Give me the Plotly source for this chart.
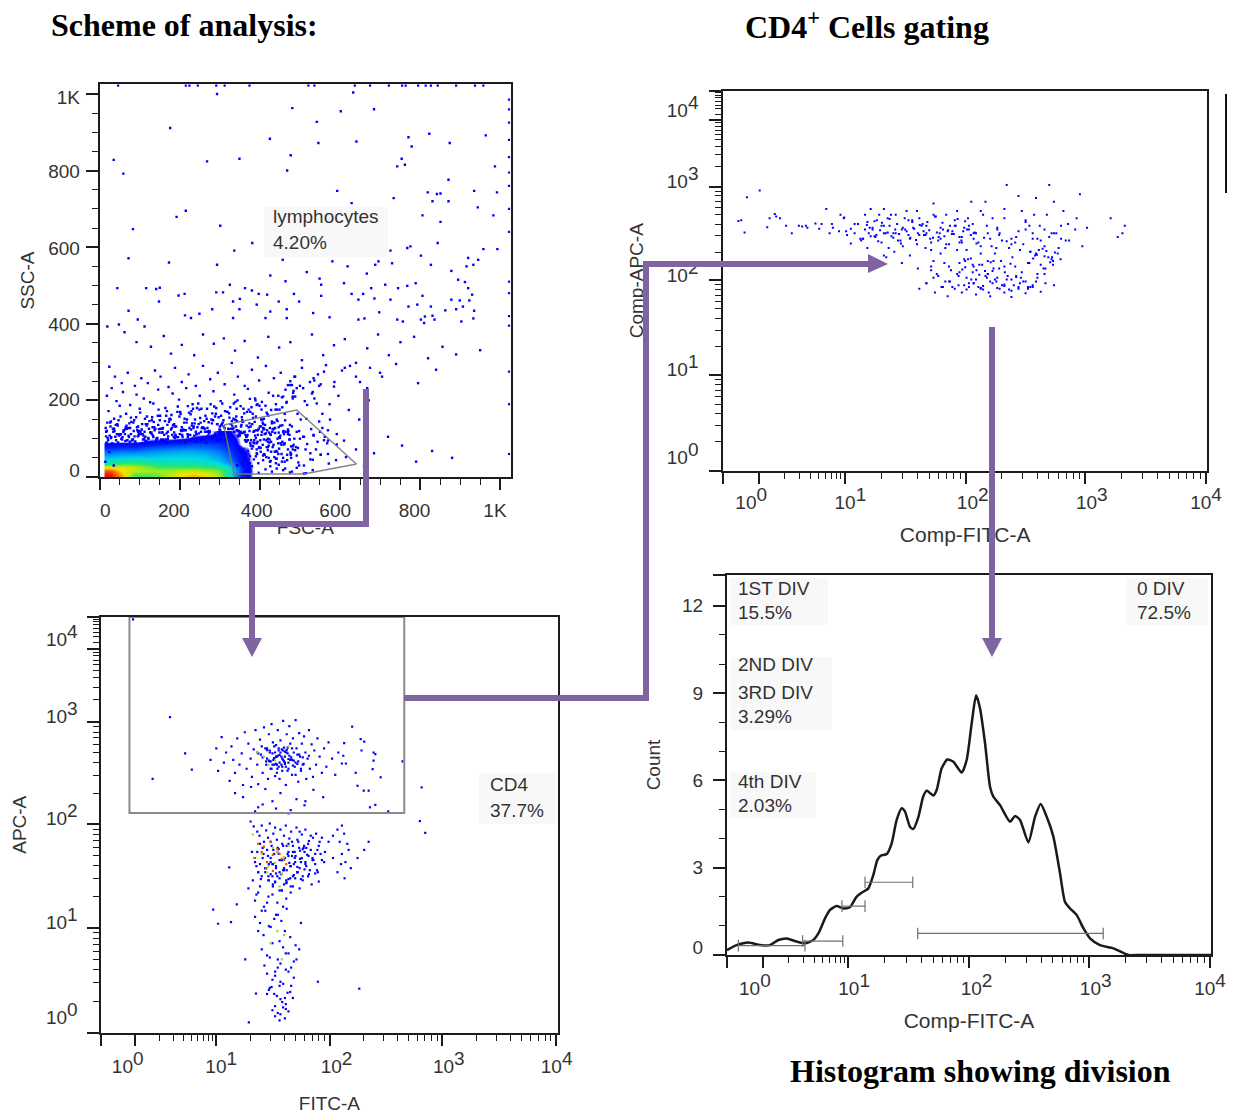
import plotly.graph_objects as go
import math

W, H = 1238, 1115
# ---------- data: A (FSC-A / SSC-A, linear values) ----------
fsc_edge = [46,215,224,245,291,312,374,521,536,637,675,722,755,764,795,814,827,844,890,937,958]
ssc_edge = [1022]*21
fsc_right = [1022]*16
ssc_right = [985,960,925,880,835,795,760,700,640,510,480,420,395,275,190,60]
fsc_a = [293,633,481,602,685,176,542,823,771,964,425,546,641,874,779,35,477,268,349,754,762,743,987,468,59,871,593,819,851,842,935,992,734,629,831,871,944,215,192,806,983,851,301,83,844,381,776,768,336,726,958,993,72,457,581,173,293,696,730,688,802,827,619,920,945,916,933,878,667,426,517,549,895,912,920,464,553,610,789,768,713,745,44,116,141,150,325,380,363,291,308,678,197,212,397,418,485,553,629,658,930,806,148,333,350,447,498,646,686,726,878,899,923,771,793,827,863,890,907,935,281,349,392,426,467,72,698,533,802,812,831,933,95,19,48,112,213,228,249,333,414,467,574,646,661,743,757,810,836,903,
 62,92,128,160,178,205,236,258,285,310,338,362,395,421,448,476,505,530,558,585,612,640,668,695,722,751,785,820,856,890,950,
 24,38,55,70,88,104,120,138,152,172,188,205,222,240,258,276,295,312,330,345,362,380,398,415,435,452,470,488,505,525,545,565,585,605,625,650,675,705,
 18,30,42,58,76,92,110,126,146,164,182,198,216,232,250,268,284,302,318,336,352,370,388,404,422,440,458,476,494,512,532,552,574,596,622,648,672,
 22,36,50,66,84,100,118,134,150,168,186,202,220,238,254,272,290,306,324,342,358,376,392,410,428,446,464,482,500,518,536,556,
 15,28,44,60,78,96,112,130,148,166,184,200,218,234,252,270,288,304,322,340,356,374,390,408,426,444,462,480,498,516,534,
 20,34,48,64,80,98,114,132,154,170,190,208,226,242,260,278,296,314,332,350,366,384,402,420,438,456,474,492,510,528,548,570,592,
 410,432,452,470,490,508,526,544,420,440,460,478,496,514,532,552,572,592,615,640,660,685,720,755,790,830,880,
 430,456,482,508,534,560,586,612,640,668,700,740,795,840,
 16,27,39,47,53,68,74,83,91,102,109,117,124,137,143,151,158,167,175,183,193,201,209,217,226,233,244,251,263,271,281,293,301,309,317,326,334,341,349,357,368,377,386,394,403,411,419,427,436,443,451,459,467,
 19,25,33,41,52,59,67,73,86,94,101,107,115,122,131,139,147,155,163,171,179,187,195,204,212,221,229,237,246,255,264,273,283,291,299,307,316,323,331,339,347,355,364,372,381,389,397,406,414,423,
 17,29,37,45,56,63,71,79,89,97,105,113,121,129,136,145,153,161,169,177,185,194,203,211,219,227,235,243,253,261,269,277,287,297,305,313,321,329,337,344,353,361,369,379,387,395,405,413,421,431,439,447,455,463,471,
 21,31,43,54,65,75,85,95,106,116,126,135,144,156,165,174,181,191,199,207,215,223,231,241,249,257,267,275,286,294,303,311,319,328,335,343,351,359,367,375,383,391,399,407,417,425,433,442,449,458,466,475,483,
 340,352,366,378,392,404,418,430,444,456,470,484,346,360,372,386,398,412,424,438,450,464,478,
 350,364,376,390,402,416,428,442,454,468,482,500,358,370,384,396,410,422,436,448,462,476,492,510,526,
 345,356,368,382,394,408,420,434,446,460,474,488,502,518,534,552,570,590,610,
 470,474,478,482,486,476,480,484,488,492,530,536,542,548,556,562,568,575,540,550,560,570,
 14,24,35,46,57,69,78,88,99,111,120,133,141,149,159,168,178,188,197,206,214,224,232,239,248,259,266,274,282,292,300,308,318,327,336,
 16,26,36,49,61,72,82,93,103,114,123,134,146,157,170,180,189,198,210,220,230,240,252,262,270,280,289,298,310,320,330,
 18,28,40,51,64,76,87,96,108,119,130,142,152,162,173,186,196,205,216,228,236,247,256,268,279,288,302,312,322,334,
 342,348,354,362,370,374,380,388,393,400,407,415,422,428,435,441,448,455,462,470,477,486,495,
 343,350,358,365,372,379,386,395,402,409,416,424,432,440,447,454,461,468,
 345,353,360,367,375,383,390,398,405,412,420,427,434,443,451,458,
 347,355,363,371,377,385,392,401,408,417,426,437,446,
 360,375,392,408,425,442,458,475,492,510,
 365,380,397,414,430,447,463,480,498,515,532]
ssc_a = [1000,1004,963,955,960,911,927,896,887,892,883,872,876,872,863,828,840,824,831,831,815,811,811,800,792,776,747,743,740,739,747,743,728,715,720,720,704,695,679,683,683,666,656,647,611,611,602,598,591,591,595,595,571,567,563,560,554,563,558,554,578,554,550,572,567,550,554,538,531,526,535,518,515,509,493,511,502,506,506,499,502,493,493,493,491,494,502,487,493,482,482,493,474,478,478,476,478,473,478,478,476,473,458,458,465,458,458,463,466,463,463,461,461,445,450,445,435,438,445,434,438,438,450,432,438,434,430,428,411,419,421,414,411,393,398,393,422,415,426,415,415,415,417,411,414,411,406,402,411,406,
 378,352,340,368,322,345,318,372,348,362,330,355,312,366,338,352,305,372,318,344,360,298,336,372,318,352,366,310,340,320,331,
 288,262,245,272,238,258,245,278,262,235,285,248,268,238,290,255,272,242,298,262,238,280,252,290,258,272,240,262,285,248,268,292,236,278,290,248,285,262,
 212,232,198,222,188,215,205,195,228,180,218,202,232,190,212,178,224,198,170,215,185,230,205,176,220,190,210,240,165,198,222,242,190,212,175,150,200,
 172,152,186,165,142,178,158,192,148,172,138,165,185,150,178,143,165,192,155,178,145,170,188,152,175,212,228,205,238,188,252,165,
 128,145,138,122,155,132,118,148,125,160,135,112,150,128,142,118,158,135,125,148,115,140,158,128,112,146,165,132,120,152,110,
 102,118,108,125,95,112,105,130,98,118,108,122,96,112,128,102,116,98,125,108,92,118,132,100,115,135,98,118,105,125,145,95,112,
 98,125,88,112,78,105,62,92,70,48,85,60,38,72,45,58,35,85,52,72,28,62,105,82,40,68,50,
 145,182,210,232,258,275,248,285,262,232,272,295,245,280,
 118,132,105,148,112,126,140,98,156,118,108,134,146,122,100,160,128,114,152,136,104,170,124,142,110,178,130,154,118,106,166,138,122,148,112,182,128,158,116,144,170,132,120,190,150,126,164,110,142,176,134,120,196,
 142,108,126,96,158,118,134,104,148,122,168,112,138,100,156,126,176,116,146,106,162,132,184,120,152,110,172,140,192,128,160,114,148,180,124,142,106,166,134,196,120,156,110,176,138,200,126,150,186,116,
 90,104,120,134,98,112,128,144,92,108,124,152,102,116,130,160,96,110,136,150,104,170,122,142,112,164,132,180,118,146,128,190,108,156,138,172,126,114,150,200,132,166,110,182,144,122,196,136,160,118,176,130,208,148,120,
 96,88,112,100,130,92,120,106,138,94,116,144,102,126,98,150,110,132,158,104,122,168,140,112,176,130,152,118,184,138,160,110,170,126,192,146,116,178,134,204,154,122,186,142,168,128,212,150,176,118,194,136,220,
 132,118,104,96,88,110,122,140,100,92,124,84,106,116,130,96,78,112,90,128,102,118,80,
 70,62,88,54,76,96,66,48,84,58,72,100,44,68,90,36,60,82,52,74,40,64,56,30,46,
 120,148,106,165,92,138,78,125,60,112,98,70,150,86,108,58,122,44,95,72,110,50,80,
 262,250,240,225,210,232,218,205,192,238,128,105,88,150,72,118,96,60,40,65,30,90,
 104,96,112,92,120,100,90,108,95,116,98,88,124,102,94,110,90,128,100,92,114,98,88,120,104,96,132,110,100,138,118,106,142,126,112,
 122,108,98,130,112,94,126,104,136,116,100,128,110,92,122,104,134,118,96,126,108,140,114,98,132,106,146,120,102,136,110,
 94,128,106,118,98,138,112,100,126,92,144,116,104,130,96,124,108,138,100,118,150,112,98,128,106,152,122,110,136,118,
 96,120,74,108,60,132,84,114,50,92,126,68,104,40,88,118,58,100,76,30,112,64,94,46,82,
 88,110,66,124,52,98,78,36,116,60,86,44,108,70,28,94,54,80,
 102,76,118,58,92,42,84,66,108,50,72,34,96,60,82,46,
 62,96,44,78,28,66,88,50,36,72,56,40,22,
 18,12,24,9,16,28,11,20,14,32,
 22,14,30,10,18,34,12,26,16,38,8]
fsc_gate_x = [310,492,641,510,335,310]
ssc_gate_y = [136,175,34,8,8,136]
# density grid for the dense cell cloud of panel A
grid_fsc = [27,57,87,117,147,177,207,237,267,297,327,357,387]
grid_ssc = [5,15,25,35,45,55,65,75,85,95,105,115]
grid_density = [
 [1.0,.86,.62,.62,.66,.74,.82,.86,.82,.72,.5,.2,0],
 [.95,.82,.74,.72,.72,.72,.76,.76,.72,.68,.52,.24,0],
 [.8,.78,.74,.68,.62,.62,.62,.62,.6,.58,.46,.22,0],
 [.6,.64,.64,.6,.56,.56,.55,.55,.54,.5,.4,.18,0],
 [.5,.52,.52,.52,.5,.5,.5,.5,.48,.44,.34,.14,0],
 [.42,.44,.45,.44,.45,.46,.46,.46,.44,.4,.3,.12,0],
 [.34,.36,.36,.38,.4,.41,.42,.42,.4,.36,.27,.1,0],
 [.24,.26,.26,.3,.32,.33,.35,.35,.34,.3,.24,.08,0],
 [.12,.14,.15,.18,.22,.24,.26,.28,.28,.26,.2,0,0],
 [0,0,0,.07,.1,.1,.16,.18,.2,.2,.16,0,0],
 [0,0,0,0,0,0,0,.08,.12,.14,.12,0,0],
 [0,0,0,0,0,0,0,0,0,.08,.08,0,0]]

# ---------- data: C (FITC-A / APC-A, display channels) ----------
fitc_c = [154,115,188,203,71,719,715,727,644,615,603,676,579,486,262,251,291,304,331,323,347,287,
 582,590,611,615,611,609,584,563,545,543,540,549,571,575,589,600,627,
 245,258,262,270,275,280,288,292,296,300,305,310,315,318,322,326,330,335,338,342,346,350,352,356,358,362,365,368,370,374,376,378,380,382,385,388,390,392,394,396,398,400,402,404,406,408,410,412,414,416,418,420,422,424,426,428,430,432,434,436,438,440,442,444,446,448,450,452,455,458,460,463,466,468,472,475,478,482,485,490,495,500,505,510,518,525,532,
 350,372,388,405,392,378,415,428,398,440,420,360,452,384,408,432,466,395,372,412,
 300,318,336,352,368,384,402,420,438,456,476,498,345,362,392,425,458,
 335,342,350,355,360,365,370,374,378,382,386,390,394,398,402,406,410,414,418,422,426,430,434,438,442,446,450,454,458,462,466,470,476,482,488,495,502,510,520,
 338,348,356,362,368,372,376,380,384,388,392,396,400,404,408,412,416,420,424,428,432,436,440,444,448,452,456,460,464,468,474,480,486,492,
 345,352,358,364,370,375,380,385,390,395,400,405,410,415,420,425,430,435,440,445,452,458,466,474,484,
 520,530,535,540,545,552,540,548,555,530,538,546,560,575,590,600,
 330,340,348,356,345,352,365,375,385,395,405,415,425,360,372,384,396,408,
 345,356,368,380,392,404,416,352,364,376,388,400,412,424,436,448,
 360,372,384,396,408,420,432,444,366,378,390,402,414,426,438,
 372,384,396,408,420,432,378,390,402,414,426,
 376,388,400,412,424,382,394,406,418,430,390,402,414,
 384,396,408,420,390,402,414,372,400,412,
 352,362,372,380,388,396,404,412,420,428,436,444,378,386,394,402,410,418,426,384,392,400,408,416,
 370,376,382,388,394,400,406,412,418,424,430,436,442,448,454,390,398,406,414,422,
 344,350,356,362,368,374,380,386,392,398,404,410,416,422,428,434,440,446,452,458,
 352,360,368,376,384,392,400,408,416,424,432,440,448,456,464,472,480,488,
 375,385,395,405,415,425,435,445,380,390,400,410,420,430,
 420,430,440,450,460,470,480,490,500,445,455,465,475,485,495]
apc_c = [777,625,688,648,1018,604,521,492,545,561,555,668,108,125,268,303,272,316,25,180,96,407,
 723,717,690,686,670,649,695,754,713,682,663,663,640,608,596,596,629,
 672,700,645,728,665,690,620,705,672,640,725,660,688,610,740,650,712,675,630,698,745,660,612,722,685,640,752,700,668,625,735,690,650,760,715,676,632,708,660,745,695,625,720,680,645,768,702,665,610,735,688,650,755,712,672,635,725,690,655,770,700,662,618,738,680,645,712,660,730,690,625,675,745,650,710,630,695,660,725,680,640,700,655,715,675,635,690,
 690,675,660,698,680,668,690,672,655,685,665,705,678,660,695,670,682,650,700,662,
 590,580,605,555,600,570,590,540,575,560,598,580,545,562,552,548,570,
 520,508,495,485,510,470,498,480,515,460,490,505,475,452,500,465,485,510,440,478,495,460,430,505,470,448,488,455,500,438,472,450,425,490,460,480,445,470,430,
 445,410,465,430,395,450,415,470,385,440,405,455,425,390,460,430,400,445,380,470,415,435,395,455,420,385,445,410,465,400,430,415,395,440,
 420,395,378,440,405,385,430,415,370,445,395,425,405,375,435,410,385,420,395,405,375,415,390,425,400,
 485,500,470,510,490,465,440,420,450,395,415,380,405,430,450,470,
 355,375,340,360,325,345,310,335,365,320,350,330,360,300,320,340,290,310,
 285,270,300,260,290,275,305,250,240,262,280,225,250,235,215,270,
 205,190,220,180,210,195,175,205,165,185,150,170,195,160,180,
 145,130,160,120,150,135,110,140,125,155,115,
 105,95,115,85,100,112,90,75,98,85,65,82,70,
 55,48,62,52,40,45,58,95,30,35,
 688,678,696,668,705,682,660,692,674,700,665,685,695,672,680,690,668,702,678,688,662,684,672,696,
 660,670,650,676,640,665,655,680,645,672,658,635,668,650,662,690,700,675,655,682,
 430,445,415,455,405,435,420,450,410,440,425,400,460,418,435,445,408,428,452,420,
 395,385,405,375,415,392,380,400,370,410,388,395,378,402,385,365,392,372,
 375,360,385,350,368,345,380,355,390,372,350,365,378,360,
 465,445,475,430,455,485,440,470,420,495,460,435,480,450,425]
fitc_c_hot = [345,360,372,385,395,405,415,370,385,400,410,352,365,380,395,410,375,390,405,420,340,360,385,400,
 372,395,380,405,410,365,350,390,420,375]
apc_c_hot = [430,445,420,438,452,428,415,405,398,440,425,465,458,470,445,432,410,418,392,460,
 488,440,455,360,395,250,220,180,240,680,690,670,705,660]

# ---------- data: D (Comp-FITC-A / Comp-APC-A, display channels) ----------
fitc_d = [77,50,32,109,112,120,133,145,175,167,38,45,98,93,160,178,195,232,256,208,225,203,218,230,245,255,270,248,262,285,300,278,292,305,316,330,312,322,335,348,360,340,352,365,378,392,375,388,402,415,430,410,422,438,450,465,445,458,472,490,478,495,510,525,505,518,530,545,558,540,555,570,585,600,580,595,610,625,640,618,632,648,662,680,658,672,690,705,720,700,715,732,748,770,760,755,820,835,850,845,
 260,278,295,310,325,340,355,370,385,400,415,430,445,460,475,490,505,520,535,550,565,580,595,610,625,640,655,670,685,700,715,730,745,
 270,290,305,320,335,350,365,380,395,410,425,440,455,470,485,500,515,530,545,560,575,590,605,620,635,650,665,680,695,710,725,
 345,362,378,395,412,428,445,460,478,495,510,528,545,560,578,595,612,628,645,662,678,695,
 440,452,468,482,498,512,528,542,558,572,588,602,618,632,648,665,682,698,
 430,445,462,478,495,510,525,540,555,570,585,600,615,630,645,662,680,700,
 415,430,448,465,480,498,515,530,545,562,578,595,610,628,645,
 440,455,470,485,500,515,530,545,560,575,590,605,620,635,650,665,682,
 475,490,505,520,535,550,565,580,595,610,625,640,655,672,
 520,535,550,565,580,595,610,625,640,655,
 275,570,340,310,640,655,690,
 300,308,316,324,332,340,348,356,364,372,380,388,396,404,412,420,428,436,444,452,460,468,476,484,492,500,508,516,524,532,
 296,312,328,344,360,376,392,408,424,440,456,472,488,504,520,536,552,568,584,600,
 304,320,336,352,368,384,400,416,432,448,464,480,496,512,528,
 650,664,676,688,698,708,656,668,680,692,702,714,660,672,684,696,
 500,512,524,536,548,560,572,584,596,608,620,506,518,530,542,554,566]
apc_d = [755,737,673,692,685,680,660,640,660,658,675,642,680,656,660,655,666,655,682,665,640,652,705,665,645,680,652,690,635,665,690,640,620,670,650,690,705,630,660,680,640,705,660,690,650,675,620,700,655,680,640,700,665,625,685,650,720,640,690,660,610,700,655,725,630,680,640,700,660,615,725,680,640,770,650,705,625,740,670,615,700,660,735,650,690,620,770,640,700,725,660,620,680,655,605,745,680,630,660,640,
 645,665,625,655,675,640,690,620,650,670,635,660,690,625,645,675,615,660,640,690,625,655,680,610,645,675,625,660,690,640,625,665,650,
 612,625,600,632,615,600,640,605,625,610,635,595,620,600,645,615,595,625,605,640,585,620,600,630,610,590,625,605,640,600,620,
 575,590,560,580,545,600,565,585,550,595,570,555,585,565,600,550,575,595,560,585,545,570,
 550,530,560,540,525,565,535,555,520,545,565,525,550,535,560,530,545,555,
 505,520,495,510,530,500,515,495,525,505,490,515,500,520,495,510,530,500,
 490,505,480,495,510,500,488,505,492,480,510,498,485,505,490,
 540,525,510,495,535,520,505,490,530,515,500,488,525,510,495,520,505,
 470,490,480,495,475,488,470,492,480,468,490,478,495,482,
 505,515,498,510,520,502,515,495,510,500,
 560,538,580,575,650,640,630,
 650,640,655,635,648,660,642,632,650,638,655,645,628,652,640,660,635,648,628,642,655,632,648,638,660,630,645,650,635,642,
 625,632,618,640,628,612,635,622,645,615,630,610,638,620,650,612,628,605,635,618,
 662,672,668,678,665,680,675,662,670,685,668,660,678,672,665,
 590,582,598,575,565,585,572,595,578,562,588,570,580,555,592,575,
 560,548,572,540,555,530,565,545,535,558,522,542,570,550,528,538,562]

# ---------- data: E (histogram) ----------
hist_channel = [0,20.5,45.2,69.8,91,108.6,126.3,147.4,165,182.7,193.3,207.4,218,232,246,260,274,285,299,309.6,318,325,338,348.4,359,369.6,376.6,387,394,405,415,422.5,436.6,443.6,454,466,479,496.5,507,517.7,527,535.3,546,556.5,563.5,577.7,598.8,609.4,620,637.6,651.7,663.7,676.4,690.5,704.6,715,725.8,740,754,768,789,817.5,849,874,950,1024]
hist_count = [.17,.34,.43,.34,.34,.515,.57,.46,.4,.515,.74,1.26,1.55,1.68,1.6,1.64,2.0,2.14,2.29,2.75,3.26,3.41,3.47,3.84,4.64,5.04,4.93,4.41,4.33,4.75,5.44,5.65,5.48,5.67,6.41,6.72,6.64,6.27,6.7,7.96,8.93,8.48,7.27,5.78,5.44,5.15,4.58,4.78,4.64,3.87,4.75,5.19,4.75,4.07,2.81,1.83,1.6,1.37,.92,.57,.34,.23,0,0,0,0]
hist_gate_lo = [24,160,243,292,403.5]
hist_gate_hi = [165,245,292,393,796]
hist_gate_level = [.32,.48,1.68,2.5,.74]

# ---------- axis labels ----------
linear_ticks = [0,200,400,600,800,1000]
linear_labels = ["0","200","400","600","800","1K"]
x_decades = [76,257,513,765,1021]
y_decades = [0,257,513,765,946]
decade_labels = ["10<sup>%d</sup>" % k for k in range(5)]
hist_ticks = [0,3,6,9,12]

FONT = "Liberation Sans"
DARK = "#1c1c1c"
PURPLE = "#8064A2"

def fx(p): return p / W
def fy(p): return 1 - p / H
def sup(lbl):
    return lbl.replace("<sup>", '<sup><span style="font-size:19px">').replace("</sup>", "</span></sup>")

def log_minor(decs):
    out = []
    for a, b in zip(decs[:-1], decs[1:]):
        out += [a + (b - a) * math.log10(k) for k in range(2, 10)]
    return out

fig = go.Figure()
panels = {
 "A": dict(x=(99.7, 511), y=(84, 477), xr=(0, 1027), yr=(0, 1026)),
 "C": dict(x=(101.4, 557.5), y=(617, 1032.5), xr=(0, 1024), yr=(0, 1024)),
 "D": dict(x=(723.3, 1207), y=(90.7, 470.7), xr=(0, 1024), yr=(0, 1024)),
 "E": dict(x=(727, 1211), y=(575, 955), xr=(0, 1024), yr=(0, 13.06)),
}
spec = {
 "A": dict(xt=linear_ticks, xm=list(range(0, 1001, 50)), yt=linear_ticks, ym=list(range(0, 1001, 50)),
           xlv=[14, 185, 392, 588, 786, 987], xl=linear_labels, ylv=[18, 202, 398, 598, 797, 992], yl=linear_labels,
           xtitle="FSC-A", ytitle="SSC-A", xs=32, ys=46, xpad=16, ypad=15),
 "C": dict(xt=[0]+x_decades, xm=log_minor(x_decades), yt=y_decades+[1024], ym=log_minor(y_decades)+[960,975,985,995,1005,1012,1018],
           xlv=[59,269,528,780,1022], xl=decade_labels, ylv=[37,272,527,780,970], yl=decade_labels,
           xtitle="FITC-A", ytitle="APC-A", xs=52, ys=56, xpad=17, ypad=19),
 "D": dict(xt=[0]+x_decades, xm=log_minor(x_decades), yt=y_decades+[1024], ym=log_minor(y_decades)+[960,975,985,995,1005,1012,1018],
           xlv=[59,269,528,780,1022], xl=decade_labels, ylv=[37,272,527,780,970], yl=decade_labels,
           xtitle="Comp-FITC-A", ytitle="Comp-APC-A", xs=45, ys=61, xpad=14, ypad=20),
 "E": dict(xt=[0]+x_decades, xm=log_minor(x_decades), yt=hist_ticks+[13.06], ym=[1,2,4,5,7,8,10,11],
           xlv=[59,269,528,780,1022], xl=decade_labels, ylv=[.25,3,6,9,12], yl=["0","3","6","9","12"],
           xtitle="Comp-FITC-A", ytitle="Count", xs=46, ys=47, xpad=16, ypad=19),
}
layout = {}
pairs = {}
for i, name in enumerate("ACDE"):
    p, s = panels[name], spec[name]
    k = i + 1
    xn, yn = f"x{k}" if k > 1 else "x", f"y{k}" if k > 1 else "y"
    xo, yo = f"x{k+4}", f"y{k+4}"
    pairs[name] = (xn, yn)
    xdom = [fx(p["x"][0]), fx(p["x"][1])]
    ydom = [fy(p["y"][1]), fy(p["y"][0])]
    tf = dict(family=FONT, size=19, color="#333")
    xts = 21 if "Comp" in s["xtitle"] else 19
    layout[f"xaxis{k}" if k > 1 else "xaxis"] = dict(
        domain=xdom, range=list(p["xr"]), anchor=yn, showgrid=False, zeroline=False,
        showline=True, linecolor=DARK, linewidth=2, mirror=True, ticks="outside", ticklen=11, tickwidth=1.5,
        tickcolor=DARK, tickmode="array", tickvals=s["xt"], showticklabels=False,
        minor=dict(tickmode="array", tickvals=s["xm"], ticks="outside", ticklen=6, tickwidth=1.2, tickcolor=DARK, showgrid=False),
        title=dict(text=s["xtitle"], font=dict(family=FONT, size=xts, color="#333"), standoff=s["xs"]), automargin=False)
    layout[f"yaxis{k}" if k > 1 else "yaxis"] = dict(
        domain=ydom, range=list(p["yr"]), anchor=xn, showgrid=False, zeroline=False,
        showline=True, linecolor=DARK, linewidth=2, mirror=True, ticks="outside", ticklen=12, tickwidth=1.5,
        tickcolor=DARK, tickmode="array", tickvals=s["yt"], showticklabels=False,
        minor=dict(tickmode="array", tickvals=s["ym"], ticks="outside", ticklen=6, tickwidth=1.2, tickcolor=DARK, showgrid=False),
        title=dict(text=s["ytitle"], font=dict(family=FONT, size=19, color="#333"), standoff=s["ys"]), automargin=False)
    layout[f"xaxis{k+4}"] = dict(
        domain=xdom, range=list(p["xr"]), anchor=yo, overlaying=xn, side="bottom", showgrid=False, zeroline=False,
        showline=False, ticks="outside", ticklen=s["xpad"], tickcolor="rgba(0,0,0,0)", tickmode="array",
        tickvals=s["xlv"], ticktext=[sup(t) for t in s["xl"]], tickfont=tf, tickangle=0, automargin=False)
    layout[f"yaxis{k+4}"] = dict(
        domain=ydom, range=list(p["yr"]), anchor=xo, overlaying=yn, side="left", showgrid=False, zeroline=False,
        showline=False, ticks="outside", ticklen=s["ypad"], tickcolor="rgba(0,0,0,0)", tickmode="array",
        tickvals=s["ylv"], ticktext=[sup(t) for t in s["yl"]], tickfont=tf, automargin=False)
    fig.add_trace(go.Scatter(x=[None], y=[None], xaxis=xo, yaxis=yo, showlegend=False, hoverinfo="skip"))

BLUE = "#0000FF"
def dots(x, y, name, color=BLUE, size=2.2):
    xa, ya = pairs[name]
    fig.add_trace(go.Scatter(x=x, y=y, xaxis=xa, yaxis=ya, mode="markers", showlegend=False,
                             marker=dict(symbol="square", size=size, color=color, line=dict(width=0))))

xa, ya = pairs["A"]
fig.add_trace(go.Heatmap(x=grid_fsc, y=grid_ssc, z=grid_density, xaxis=xa, yaxis=ya, zmin=0, zmax=1, zsmooth="best",
    showscale=False, hoverinfo="skip",
    colorscale=[[0,"rgba(0,0,255,0)"],[.03,"rgba(0,0,255,0)"],[.08,"rgba(0,0,255,1)"],[.22,"rgb(0,30,255)"],[.36,"rgb(0,130,255)"],
                [.48,"rgb(0,220,225)"],[.6,"rgb(40,230,110)"],[.72,"rgb(170,235,20)"],[.82,"rgb(250,225,0)"],[.92,"rgb(250,110,0)"],[1,"rgb(235,20,0)"]]))
dots(fsc_a, ssc_a, "A", size=2.4)
dots(fsc_edge, ssc_edge, "A")
dots(fsc_right, ssc_right, "A")
fig.add_trace(go.Scatter(x=fsc_gate_x, y=ssc_gate_y, xaxis=xa, yaxis=ya, mode="lines", showlegend=False,
                         line=dict(color="rgba(120,120,120,.9)", width=1.5)))
dots(fitc_c, apc_c, "C")
dots(fitc_c_hot[:14], apc_c_hot[:14], "C", "#F04A10")
dots(fitc_c_hot[14:], apc_c_hot[14:], "C", "#90E030")
dots(fitc_d, apc_d, "D", size=2)
xa, ya = pairs["E"]
fig.add_trace(go.Scatter(x=hist_channel, y=hist_count, xaxis=xa, yaxis=ya, mode="lines", showlegend=False,
                         line=dict(color="#1a1a1a", width=2.5, shape="spline", smoothing=.6)))

shapes = []
def rect_px(x0, y0, x1, y1, fill="#F8F8F8", line=None, w=0):
    shapes.append(dict(type="rect", xref="paper", yref="paper", x0=fx(x0), x1=fx(x1), y0=fy(y1), y1=fy(y0),
                       fillcolor=fill, line=dict(width=w, color=line or fill), layer="below"))
rect_px(264, 207, 388, 257)
rect_px(479, 773, 556, 824)
rect_px(730, 578, 828, 625)
rect_px(1126, 578, 1208, 625)
rect_px(731, 657, 832, 730)
rect_px(730, 772, 816, 818)

# CD4 rectangular gate
shapes.append(dict(type="rect", xref="x2", yref="y2", x0=63, x1=680, y0=541, y1=1024,
                   line=dict(color="#8a8a8a", width=2), layer="above"))
# histogram gates
xa, ya = pairs["E"]
for lo, hi, lv in zip(hist_gate_lo, hist_gate_hi, hist_gate_level):
    for sh in (dict(x0=lo, x1=hi, y0=lv, y1=lv), dict(x0=lo, x1=lo, y0=lv-.2, y1=lv+.2), dict(x0=hi, x1=hi, y0=lv-.2, y1=lv+.2)):
        shapes.append(dict(type="line", xref="x4", yref="y4", line=dict(color="#707070", width=1.2), layer="above", **sh))

def path_px(pts, close=False):
    return "M " + " L ".join(f"{fx(a):.5f} {fy(b):.5f}" for a, b in pts) + (" Z" if close else "")
# purple connectors
for pts in ([(366,389),(366,524),(252,524),(252,640)],
            [(404,698),(646,698),(646,264),(872,264)],
            [(992,327),(992,640)]):
    shapes.append(dict(type="path", xref="paper", yref="paper", path=path_px(pts),
                       line=dict(color=PURPLE, width=6), layer="above"))
for pts in ([(242,638),(262,638),(252,657)], [(868,254),(868,273),(888,264)], [(982,638),(1002,638),(992,657)]):
    shapes.append(dict(type="path", xref="paper", yref="paper", path=path_px(pts, True),
                       fillcolor=PURPLE, line=dict(color=PURPLE, width=0), layer="above"))
# black bar at right
shapes.append(dict(type="line", xref="paper", yref="paper", x0=fx(1226), x1=fx(1226), y0=fy(94), y1=fy(193),
                   line=dict(color="#111", width=2), layer="above"))

ann = []
def text_px(x, y, t, size=19, color="#333", family=FONT, anchor="left"):
    ann.append(dict(xref="paper", yref="paper", x=fx(x), y=fy(y), text=t, showarrow=False, xanchor=anchor, yanchor="middle",
                    font=dict(family=family, size=size, color=color), align="left"))
text_px(271, 217, "lymphocytes"); text_px(271, 242, "4.20%")
text_px(488, 784, "CD4"); text_px(488, 810, "37.7%")
text_px(736, 588, "1ST DIV"); text_px(736, 612, "15.5%")
text_px(1135, 588, "0 DIV"); text_px(1135, 612, "72.5%")
text_px(736, 665, "2ND DIV")
text_px(736, 692, "3RD DIV"); text_px(736, 716, "3.29%")
text_px(736, 781, "4th DIV"); text_px(736, 805, "2.03%")
SERIF = "Liberation Serif"
def title_px(x, y, t):
    text_px(x, y, f"<b>{t}</b>", size=32, color="#000", family=SERIF)
title_px(49, 25, "Scheme of analysis:")
title_px(743, 25, "CD4<sup>+</sup> Cells gating")
title_px(788, 1071, "Histogram showing division")

fig.update_layout(width=W, height=H, autosize=False, margin=dict(l=0, r=0, t=0, b=0, autoexpand=False), paper_bgcolor="white",
                  plot_bgcolor="rgba(0,0,0,0)", showlegend=False, shapes=shapes, annotations=ann, **layout)
fig.write_html("out.html", config=dict(displayModeBar=False),
               post_script="document.body.style.margin='0';var l=document.querySelector('.layer-above');l.parentNode.appendChild(l);")
